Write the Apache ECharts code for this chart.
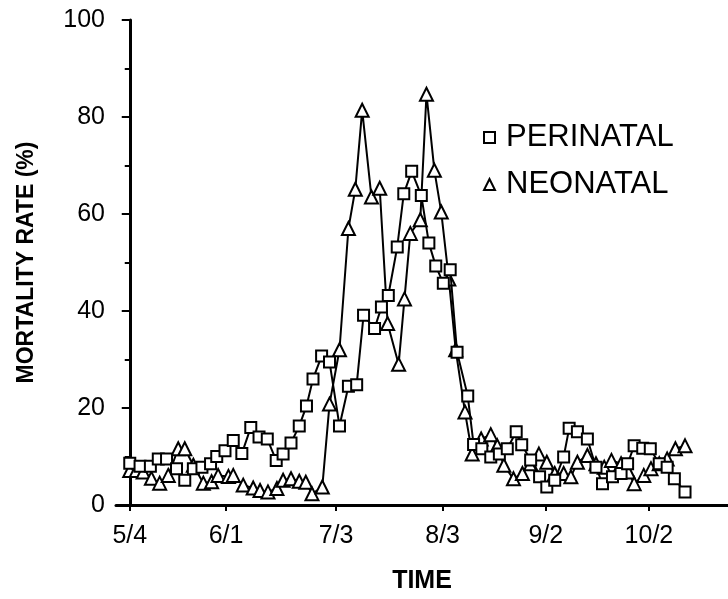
<!DOCTYPE html>
<html>
<head>
<meta charset="utf-8">
<script src="https://cdn.jsdelivr.net/npm/echarts@6/dist/echarts.min.js"></script>
<style>
  html, body { margin: 0; padding: 0; background: #fff; }
  #main { width: 728px; height: 599px; }
</style>
</head>
<body>
<div id="main"></div>
<script>
var myChart = echarts.init(document.getElementById('main'));

// days counted from 5/4
var tickDays = [0, 28, 60, 91, 121, 151];
var tickLabels = ['5/4', '6/1', '7/3', '8/3', '9/2', '10/2'];

var perinatalDays = [0, 3, 6, 8.3, 10.7, 13.6, 16, 18.5, 21, 23.5, 25.3, 27.7, 30.1, 32.6, 35.2, 37.6,
    40, 42.6, 44.6, 46.9, 49.3, 51.4, 53.3, 55.8, 58.1, 61, 63.6, 66, 68, 71.2, 73.2, 75.2,
    77.8, 79.7, 82, 84.8, 87, 89, 91.2, 93.2, 95.2, 98.3, 100, 102.4, 105, 107.5, 109.8, 112.4,
    114, 116.6, 119.2, 121.3, 123.6, 126.2, 127.8, 130.2, 133.1, 135.6, 137.5, 140.4, 142.9,
    144.8, 146.7, 149.2, 151.4, 154, 156.3, 158.4, 161.5];
var perinatalRates = [8.6, 8.0, 8.0, 9.5, 9.5, 7.5, 5.1, 7.5, 7.8, 8.5, 10.0, 11.2, 13.3, 10.6, 16.0, 14.0,
    13.6, 9.2, 10.5, 12.8, 16.3, 20.4, 26.0, 30.7, 29.5, 16.3, 24.5, 24.8, 39.1, 36.4, 40.8, 43.2,
    53.2, 64.2, 68.8, 63.8, 54.0, 49.3, 45.7, 48.5, 31.5, 22.5, 12.5, 11.6, 9.9, 10.5, 11.6, 15.1,
    12.4, 9.3, 5.8, 3.7, 5.1, 9.9, 15.8, 15.1, 13.6, 7.8, 4.4, 5.8, 6.5,
    8.5, 12.2, 11.7, 11.6, 8.5, 7.8, 5.4, 2.7];

var neonatalDays = [0, 1.9, 3.9, 6.3, 8.7, 11.2, 14.1, 16, 18.5, 21.4, 23.8, 25.7, 28.7, 30.1, 33,
    35.9, 37.9, 40.2, 42.8, 44.6, 46.9, 49.3, 51.2, 53, 56, 58.1, 61, 63.6, 65.6, 67.6, 70.3,
    72.7, 75, 78.2, 79.9, 81.6, 84.5, 86.3, 88.6, 90.6, 92.8, 94.8, 97.5, 99.6, 102.2, 105,
    106.9, 108.8, 111.6, 114.2, 116.6, 119, 121.3, 123.6, 126.2, 128.3, 130.2, 133.1, 135.6,
    138, 140.1, 142.9, 145, 146.7, 149.5, 151.6, 154, 156.3, 158.7, 161.5];
var neonatalRates = [7.1, 7.1, 6.8, 5.5, 4.5, 6.1, 11.6, 11.6, 8.2, 4.5, 4.8, 6.1, 5.9, 6.1, 4.1,
    3.5, 3.0, 2.7, 3.4, 5.1, 5.4, 4.9, 4.7, 2.3, 3.7, 20.8, 32.0, 57.0, 65.1, 81.4, 63.5,
    65.3, 37.4, 29.0, 42.5, 56.0, 58.8, 84.7, 69.0, 60.4, 46.6, 32.0, 19.2, 10.5, 13.6, 14.5,
    12.2, 8.2, 5.4, 6.5, 8.5, 10.5, 8.8, 6.5, 6.5, 5.8, 8.8, 10.2, 8.5,
    7.8, 9.2, 8.5, 6.8, 4.4, 6.1, 7.5, 8.5, 9.5, 11.6, 12.2];

function pairs(xs, ys) {
    var out = [];
    for (var k = 0; k < xs.length; k++) {
        out.push([xs[k], ys[k]]);
    }
    return out;
}

var font = 'Liberation Sans, Arial, sans-serif';

var option = {
    animation: false,
    backgroundColor: '#fff',
    grid: {
        left: 116,
        right: 0,
        top: 20,
        bottom: 88
    },
    legend: {
        orient: 'vertical',
        left: 478,
        top: 117,
        itemGap: 16,
        itemWidth: 11,
        itemHeight: 11,
        textStyle: { fontSize: 31, color: '#000', fontFamily: font, padding: [0, 0, 0, 6] },
        data: [
            { name: 'PERINATAL', icon: 'rect' },
            { name: 'NEONATAL', icon: 'triangle' }
        ]
    },
    xAxis: {
        type: 'value',
        min: -4,
        max: 174,
        name: 'TIME',
        nameLocation: 'middle',
        nameGap: 64,
        nameTextStyle: { fontSize: 25, fontWeight: 'bold', color: '#000', fontFamily: font },
        axisLine: { lineStyle: { color: '#000', width: 3 } },
        axisTick: { customValues: tickDays, length: 6, lineStyle: { color: '#000', width: 2 } },
        axisLabel: {
            customValues: tickDays,
            margin: 19,
            fontSize: 25,
            color: '#000',
            fontFamily: font,
            formatter: function (v) {
                var idx = tickDays.indexOf(v);
                return idx >= 0 ? tickLabels[idx] : '';
            }
        },
        splitLine: { show: false }
    },
    yAxis: {
        type: 'value',
        min: 0,
        max: 100,
        interval: 20,
        name: 'MORTALITY RATE (%)',
        nameLocation: 'middle',
        nameGap: 78,
        nameTextStyle: { fontSize: 23, fontWeight: 'bold', color: '#000', fontFamily: font },
        axisLine: { show: true, lineStyle: { color: '#000', width: 3 } },
        axisTick: { show: true, length: 8, lineStyle: { color: '#000', width: 2 } },
        minorTick: { show: true, splitNumber: 2, length: 5, lineStyle: { color: '#000', width: 2 } },
        axisLabel: { margin: 11, fontSize: 25, color: '#000', fontFamily: font },
        splitLine: { show: false }
    },
    series: [
        {
            name: 'PERINATAL',
            type: 'line',
            data: pairs(perinatalDays, perinatalRates),
            symbol: 'rect',
            symbolSize: 11,
            z: 3,
            lineStyle: { color: '#000', width: 2 },
            itemStyle: { color: '#fff', borderColor: '#000', borderWidth: 2 }
        },
        {
            name: 'NEONATAL',
            type: 'line',
            data: pairs(neonatalDays, neonatalRates),
            symbol: 'triangle',
            symbolSize: 13,
            z: 2,
            lineStyle: { color: '#000', width: 2 },
            itemStyle: { color: '#fff', borderColor: '#000', borderWidth: 2 }
        }
    ]
};

if (option && typeof option === "object") {
    myChart.setOption(option, true);
}
</script>
</body>
</html>
